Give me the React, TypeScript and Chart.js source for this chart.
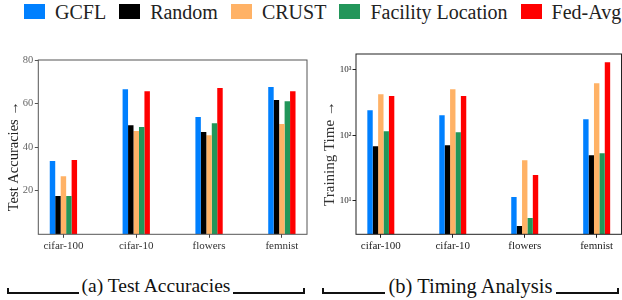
import React, { useEffect, useRef } from 'react';
import { Chart, registerables } from 'chart.js';

Chart.register(...registerables);

// ---------- data ----------
const categories = ['cifar-100', 'cifar-10', 'flowers', 'femnist'];
const methods = ['GCFL', 'Random', 'CRUST', 'Facility Location', 'Fed-Avg'];
const methodColors = ['#0080ff', '#000000', '#ffb266', '#22965a', '#ff0000'];

// Test accuracies (%)
const accGCFL = [33.6, 66.6, 53.8, 67.6];
const accRandom = [17.6, 50.0, 46.9, 61.6];
const accCRUST = [26.7, 47.4, 45.5, 50.6];
const accFacility = [17.6, 49.2, 51.0, 61.1];
const accFedAvg = [34.1, 65.7, 67.1, 65.7];

// Training time (log scale)
const timeGCFL = [240, 201, 11.5, 175];
const timeRandom = [68, 70.5, 4.17, 49.7];
const timeCRUST = [420, 500, 41.7, 617];
const timeFacility = [115, 111, 5.5, 53];
const timeFedAvg = [392, 392, 24.8, 1285];

const accTicks = [20, 40, 60, 80];
const timeTicks = [10, 100, 1000];
const timeTickLabels = ['10\u00b9', '10\u00b2', '10\u00b3'];

const accSeries = [accGCFL, accRandom, accCRUST, accFacility, accFedAvg];
const timeSeries = [timeGCFL, timeRandom, timeCRUST, timeFacility, timeFedAvg];

const FONT = '"Liberation Serif", "DejaVu Serif", serif';
const NB = '\u00a0';

function makeDatasets(series: number[][]) {
  return series.map((arr, k) => ({
    label: methods[k],
    data: arr.map((v, i) => ({ x: i, y: v })),
    backgroundColor: methodColors[k],
    borderWidth: 0,
    categoryPercentage: 0.375,
    barPercentage: 1,
  }));
}

function boxPlugin(color: string) {
  return {
    id: 'frameBox',
    afterDraw(chart: any) {
      const { ctx, chartArea: a } = chart;
      ctx.save();
      ctx.strokeStyle = color;
      ctx.lineWidth = 1;
      ctx.strokeRect(a.left, a.top, a.right - a.left, a.bottom - a.top);
      ctx.restore();
    },
  };
}

function xScale(color: string, labelColor: string, fitHeight: number) {
  return {
    type: 'linear',
    min: -0.345,
    max: 3.345,
    offset: false,
    afterBuildTicks: (s: any) => {
      s.ticks = categories.map((_, i) => ({ value: i }));
    },
    afterFit: (s: any) => {
      s.height = fitHeight;
    },
    ticks: {
      autoSkip: false,
      maxRotation: 0,
      padding: 2,
      color: labelColor,
      font: { family: FONT, size: 11 },
      callback: (v: any) => categories[v as number] ?? '',
    },
    grid: {
      display: true,
      drawOnChartArea: false,
      drawTicks: true,
      tickLength: 3.5,
      color,
      offset: false,
    },
    border: { display: false },
  };
}

export default function App() {
  const accRef = useRef<HTMLCanvasElement | null>(null);
  const timeRef = useRef<HTMLCanvasElement | null>(null);

  useEffect(() => {
    const acc = new Chart(accRef.current as HTMLCanvasElement, {
      type: 'bar',
      data: { datasets: makeDatasets(accSeries) as any },
      options: {
        animation: false,
        responsive: false,
        layout: { padding: { top: 20, right: 4, left: 0, bottom: 0 } },
        plugins: { legend: { display: false }, tooltip: { enabled: false } },
        scales: {
          x: xScale('#444', '#333', 25.7) as any,
          y: {
            type: 'linear',
            min: 0,
            max: 80,
            afterBuildTicks: (s: any) => {
              s.ticks = accTicks.map((v) => ({ value: v }));
            },
            afterFit: (s: any) => {
              s.width = 38.3;
            },
            ticks: {
              padding: 1.5,
              color: '#666',
              font: { family: FONT, size: 10.5 },
            },
            grid: {
              display: true,
              drawOnChartArea: false,
              drawTicks: true,
              tickLength: 3.5,
              color: '#555',
            },
            border: { display: false },
            title: {
              display: true,
              text: 'Test Accuracies \u2192' + NB.repeat(5),
              color: '#222',
              font: { family: FONT, size: 14.5 },
              padding: { top: 5, bottom: 0 },
            },
          },
        },
      },
      plugins: [boxPlugin('#555')],
    });

    const time = new Chart(timeRef.current as HTMLCanvasElement, {
      type: 'bar',
      data: { datasets: makeDatasets(timeSeries) as any },
      options: {
        animation: false,
        responsive: false,
        layout: { padding: { top: 14, right: 0.5, left: 0, bottom: 0 } },
        plugins: { legend: { display: false }, tooltip: { enabled: false } },
        scales: {
          x: xScale('#222', '#222', 25.7) as any,
          y: {
            type: 'logarithmic',
            min: 3.12,
            max: 1710,
            afterBuildTicks: (s: any) => {
              s.ticks = timeTicks.map((v) => ({ value: v }));
            },
            afterFit: (s: any) => {
              s.width = 45;
            },
            ticks: {
              padding: 1,
              color: '#222',
              font: { family: FONT, size: 9 },
              callback: (_v: any, i: number) => timeTickLabels[i],
            },
            grid: {
              display: true,
              drawOnChartArea: false,
              drawTicks: true,
              tickLength: 3.5,
              color: '#222',
            },
            border: { display: false },
            title: {
              display: true,
              text: 'Training Time \u2192' + NB.repeat(5),
              color: '#333',
              font: { family: FONT, size: 15 },
              padding: { top: 10, bottom: 0 },
            },
          },
        },
      },
      plugins: [boxPlugin('#222')],
    });

    return () => {
      acc.destroy();
      time.destroy();
    };
  }, []);

  const captionLine = (side: 'left' | 'right'): React.CSSProperties => ({
    flex: 1,
    alignSelf: 'flex-end',
    height: 6,
    boxSizing: 'border-box',
    borderBottom: '2px solid #111',
    [side === 'left' ? 'borderLeft' : 'borderRight']: '2px solid #111',
  });

  return (
    <div
      style={{
        position: 'fixed',
        left: 0,
        top: 0,
        width: 622,
        height: 300,
        background: '#fff',
        fontFamily: FONT,
        overflow: 'hidden',
      }}
    >
      {/* legend */}
      <div
        style={{
          position: 'absolute',
          left: 24,
          top: 2,
          display: 'flex',
          gap: 13,
          whiteSpace: 'nowrap',
          fontFamily: FONT,
        }}
      >
        {methods.map((m, k) => (
          <div key={m} style={{ display: 'flex', alignItems: 'flex-start' }}>
            <div
              style={{
                width: 21,
                height: 15,
                marginTop: 2,
                background: methodColors[k],
              }}
            />
            <span
              style={{
                marginLeft: 10,
                fontFamily: FONT,
                fontSize: 20,
                lineHeight: '20px',
                color: '#222',
              }}
            >
              {m}
            </span>
          </div>
        ))}
      </div>

      <canvas
        ref={accRef}
        width={311}
        height={220}
        style={{ position: 'absolute', left: 0, top: 40, width: 311, height: 220 }}
      />
      <canvas
        ref={timeRef}
        width={311}
        height={220}
        style={{ position: 'absolute', left: 311, top: 40, width: 311, height: 220 }}
      />

      {/* captions */}
      <div
        style={{
          position: 'absolute',
          left: 7,
          top: 276,
          width: 298,
          height: 18,
          display: 'flex',
        }}
      >
        <div style={captionLine('left')} />
        <span style={{ fontFamily: FONT, fontSize: 19.5, lineHeight: '20px', margin: '0 3px', color: '#111', whiteSpace: 'nowrap' }}>
          (a) Test Accuracies
        </span>
        <div style={captionLine('right')} />
      </div>
      <div
        style={{
          position: 'absolute',
          left: 322,
          top: 276,
          width: 297,
          height: 18,
          display: 'flex',
        }}
      >
        <div style={captionLine('left')} />
        <span style={{ fontFamily: FONT, fontSize: 20.5, lineHeight: '20px', margin: '0 3px', color: '#111', whiteSpace: 'nowrap' }}>
          (b) Timing Analysis
        </span>
        <div style={captionLine('right')} />
      </div>
    </div>
  );
}
